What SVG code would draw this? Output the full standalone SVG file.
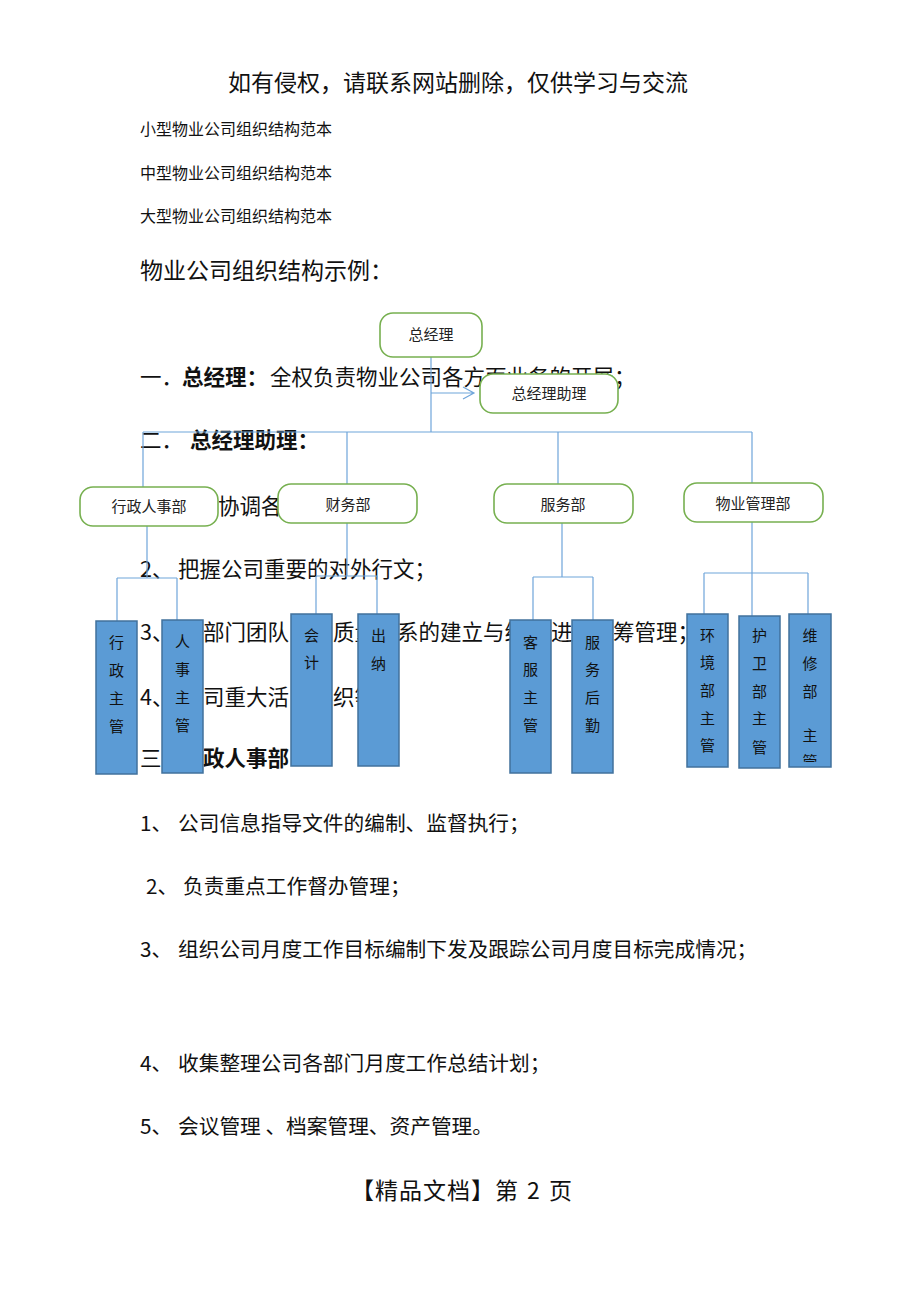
<svg xmlns="http://www.w3.org/2000/svg" width="920" height="1302" viewBox="0 0 920 1302">
<style>
  text { font-family: "Noto Sans CJK SC", "Noto Sans", sans-serif; fill: #111; }
  .title { font-size: 23px; }
  .small { font-size: 16px; }
  .head { font-size: 23px; }
  .body { font-size: 21.5px; }
  .low { font-size: 20.7px; }
  .b { font-weight: bold; }
  .foot { font-size: 23px; }
  .box { fill: #fff; stroke: #77B050; stroke-width: 1.6; }
  .bar { fill: #5B9BD5; stroke: #41719C; stroke-width: 1.5; }
  .lbl { font-size: 15px; text-anchor: middle; fill: #222; }
  .vt { font-size: 15px; text-anchor: middle; fill: #111; }
  .ln { stroke: #6FA5DA; stroke-width: 1.2; fill: none; }
</style>
<defs>
  <clipPath id="clipWX"><rect x="789" y="614" width="42" height="148"/></clipPath>
</defs>
<rect width="920" height="1302" fill="#fff"/>

<g id="page-text">
  <text class="title" x="228" y="91">如有侵权，请联系网站删除，仅供学习与交流</text>
  <text class="small" x="140" y="135">小型物业公司组织结构范本</text>
  <text class="small" x="140" y="179">中型物业公司组织结构范本</text>
  <text class="small" x="140" y="222">大型物业公司组织结构范本</text>
  <text class="head" x="140" y="279">物业公司组织结构示例：</text>

  <text class="body" y="385"><tspan x="140">一．</tspan><tspan x="182" class="b">总经理：</tspan><tspan x="270">全权负责物业公司各方面业务的开展；</tspan></text>
  <text class="body" y="448"><tspan x="140">二．</tspan><tspan x="190" class="b">总经理助理：</tspan></text>
  <text class="body" x="218" y="514">协调各</text>
  <text class="body" y="577"><tspan x="140">2、</tspan><tspan x="178">把握公司重要的对外行文；</tspan></text>
  <text class="body" y="640"><tspan x="140">3、</tspan><tspan x="203">部门团队</tspan><tspan x="333">质量</tspan><tspan x="397">系的建立与维</tspan><tspan x="551">进</tspan><tspan x="613">筹管理；</tspan></text>
  <text class="body" y="705"><tspan x="140">4、</tspan><tspan x="203">司重大活</tspan><tspan x="333">织等</tspan></text>
  <text class="body" y="766"><tspan x="140">三</tspan><tspan x="203" class="b">政人事部</tspan></text>

  <text class="low" y="831"><tspan x="140">1、</tspan><tspan x="178">公司信息指导文件的编制、监督执行；</tspan></text>
  <text class="low" y="894"><tspan x="146">2、</tspan><tspan x="183">负责重点工作督办管理；</tspan></text>
  <text class="low" y="957"><tspan x="140">3、</tspan><tspan x="178">组织公司月度工作目标编制下发及跟踪公司月度目标完成情况；</tspan></text>
  <text class="low" y="1071"><tspan x="140">4、</tspan><tspan x="178">收集整理公司各部门月度工作总结计划；</tspan></text>
  <text class="low" y="1134"><tspan x="140">5、</tspan><tspan x="178">会议管理 、档案管理、资产管理。</tspan></text>

  <text class="foot" y="1199"><tspan x="351" letter-spacing="1">【精品文档】第</tspan><tspan x="527">2</tspan><tspan x="549">页</tspan></text>
</g>

<g id="connectors">
  <path class="ln" d="M431 357 V432"/>
  <path class="ln" d="M431 393 H474 M463 387 L474 393 L463 399"/>
  <path class="ln" d="M143 432 H752"/>
  <path class="ln" d="M143 432 V487 M347 432 V484 M558 432 V484 M752 432 V483"/>
  <path class="ln" d="M147 526 V578 M117 578 H177 M117 578 V621 M177 578 V620"/>
  <path class="ln" d="M347 523 V576 M316 576 H377 M316 576 V614 M377 576 V614"/>
  <path class="ln" d="M562 523 V577 M533 577 H593 M533 577 V620 M593 577 V620"/>
  <path class="ln" d="M752 522 V616 M704 573 H808 M704 573 V614 M808 573 V614"/>
</g>

<g id="n-zjl">
  <rect class="box" x="380" y="313" width="102" height="44" rx="13"/>
  <text class="lbl" x="431" y="340">总经理</text>
</g>
<g id="n-zjlzl">
  <rect class="box" x="480" y="374" width="138" height="39" rx="13"/>
  <text class="lbl" x="549" y="399">总经理助理</text>
</g>
<g id="n-xzrsb">
  <rect class="box" x="80" y="487" width="138" height="39" rx="13"/>
  <text class="lbl" x="149" y="512">行政人事部</text>
</g>
<g id="n-cwb">
  <rect class="box" x="278" y="484" width="139" height="39" rx="13"/>
  <text class="lbl" x="348" y="510">财务部</text>
</g>
<g id="n-fwb">
  <rect class="box" x="494" y="484" width="139" height="39" rx="13"/>
  <text class="lbl" x="563" y="510">服务部</text>
</g>
<g id="n-wyglb">
  <rect class="box" x="684" y="483" width="139" height="39" rx="13"/>
  <text class="lbl" x="753" y="509">物业管理部</text>
</g>

<g id="n-xzzg">
  <rect class="bar" x="96" y="621" width="41" height="153"/>
  <text class="vt"><tspan x="116.5" y="648">行</tspan><tspan x="116.5" y="676">政</tspan><tspan x="116.5" y="704">主</tspan><tspan x="116.5" y="732">管</tspan></text>
</g>
<g id="n-rszg">
  <rect class="bar" x="162" y="620" width="41" height="153"/>
  <text class="vt"><tspan x="182.5" y="647">人</tspan><tspan x="182.5" y="675">事</tspan><tspan x="182.5" y="703">主</tspan><tspan x="182.5" y="731">管</tspan></text>
</g>
<g id="n-kj">
  <rect class="bar" x="291" y="614" width="41" height="152"/>
  <text class="vt"><tspan x="311.5" y="641">会</tspan><tspan x="311.5" y="668">计</tspan></text>
</g>
<g id="n-cn">
  <rect class="bar" x="358" y="614" width="41" height="152"/>
  <text class="vt"><tspan x="378.5" y="641">出</tspan><tspan x="378.5" y="669">纳</tspan></text>
</g>
<g id="n-kfzg">
  <rect class="bar" x="510" y="620" width="41" height="153"/>
  <text class="vt"><tspan x="530.5" y="648">客</tspan><tspan x="530.5" y="675">服</tspan><tspan x="530.5" y="703">主</tspan><tspan x="530.5" y="731">管</tspan></text>
</g>
<g id="n-fwhq">
  <rect class="bar" x="572" y="620" width="41" height="153"/>
  <text class="vt"><tspan x="592.5" y="648">服</tspan><tspan x="592.5" y="675">务</tspan><tspan x="592.5" y="703">后</tspan><tspan x="592.5" y="731">勤</tspan></text>
</g>
<g id="n-hjbzg">
  <rect class="bar" x="687" y="614" width="41" height="153"/>
  <text class="vt"><tspan x="707.5" y="641">环</tspan><tspan x="707.5" y="668">境</tspan><tspan x="707.5" y="696">部</tspan><tspan x="707.5" y="724">主</tspan><tspan x="707.5" y="751">管</tspan></text>
</g>
<g id="n-hwbzg">
  <rect class="bar" x="739" y="616" width="41" height="152"/>
  <text class="vt"><tspan x="759.5" y="641">护</tspan><tspan x="759.5" y="669">卫</tspan><tspan x="759.5" y="697">部</tspan><tspan x="759.5" y="724">主</tspan><tspan x="759.5" y="753">管</tspan></text>
</g>
<g id="n-wxbzg">
  <rect class="bar" x="789" y="614" width="42" height="153"/>
  <text class="vt" clip-path="url(#clipWX)"><tspan x="810" y="641">维</tspan><tspan x="810" y="669">修</tspan><tspan x="810" y="697">部</tspan><tspan x="810" y="741">主</tspan><tspan x="810" y="767">管</tspan></text>
</g>
</svg>
